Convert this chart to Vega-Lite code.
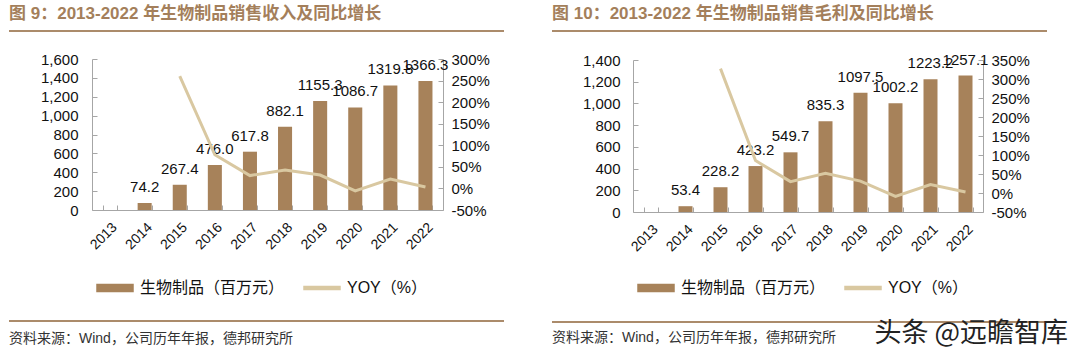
{
  "$schema": "https://vega.github.io/schema/vega-lite/v6.json",
  "padding": {"left": 9, "top": 5, "right": 0, "bottom": 0},
  "background": "#ffffff",
  "config": {
    "view": {"stroke": null},
    "font": "'Liberation Sans', 'Noto Sans CJK SC', sans-serif"
  },
  "datasets": {
    "rev": [
      {"year": "2013", "value": null, "yoy": null},
      {"year": "2014", "value": 74.2, "yoy": null},
      {"year": "2015", "value": 267.4, "yoy": 260.4},
      {"year": "2016", "value": 476.0, "yoy": 78.0},
      {"year": "2017", "value": 617.8, "yoy": 29.8},
      {"year": "2018", "value": 882.1, "yoy": 42.8},
      {"year": "2019", "value": 1155.3, "yoy": 31.0},
      {"year": "2020", "value": 1086.7, "yoy": -5.9},
      {"year": "2021", "value": 1319.8, "yoy": 21.5},
      {"year": "2022", "value": 1366.3, "yoy": 3.5}
    ],
    "gp": [
      {"year": "2013", "value": null, "yoy": null},
      {"year": "2014", "value": 53.4, "yoy": null},
      {"year": "2015", "value": 228.2, "yoy": 327.3},
      {"year": "2016", "value": 423.2, "yoy": 85.5},
      {"year": "2017", "value": 549.7, "yoy": 29.9},
      {"year": "2018", "value": 835.3, "yoy": 52.0},
      {"year": "2019", "value": 1097.5, "yoy": 31.4},
      {"year": "2020", "value": 1002.2, "yoy": -8.7},
      {"year": "2021", "value": 1223.2, "yoy": 22.1},
      {"year": "2022", "value": 1257.1, "yoy": 2.8}
    ]
  },
  "resolve": {"scale": {"color": "independent"}, "legend": {"color": "independent"}},
  "hconcat": [
    {
      "spacing": 20,
      "resolve": {"scale": {"color": "independent"}, "legend": {"color": "independent"}},
      "vconcat": [
        {
          "width": 495, "height": 2,
          "view": {"fill": "#ab8b6b", "stroke": null},
          "title": {"text": "图 9：2013-2022 年生物制品销售收入及同比增长", "anchor": "start", "fontSize": 17, "fontWeight": "bold", "color": "#a47f5b", "offset": 7},
          "data": {"values": []},
          "mark": "point"
        },
        {
          "spacing": 30,
          "resolve": {"scale": {"color": "independent"}, "legend": {"color": "independent"}},
          "hconcat": [
            {"width": 1, "height": 1, "data": {"values": []}, "mark": "point"},
            {
              "width": 351, "height": 151,
              "data": {"name": "rev"},
              "encoding": {
                "x": {"field": "year", "type": "nominal",
                  "scale": {"domain": ["2013","2014","2015","2016","2017","2018","2019","2020","2021","2022"], "paddingInner": 0.6, "paddingOuter": 0.3},
                  "axis": {"title": null, "labelAngle": -45, "labelFontSize": 14, "labelColor": "#111", "domainColor": "#a6a6a6", "tickColor": "#a6a6a6", "tickSize": -5, "tickBand": "extent", "labelPadding": 15}}
              },
              "layer": [
                {
                  "encoding": {
                    "y": {"field": "value", "type": "quantitative", "scale": {"domain": [0, 1600]},
                      "axis": {"title": null, "values": [0,200,400,600,800,1000,1200,1400,1600], "format": ",.0f", "labelOverlap": false, "labelFontSize": 15, "labelColor": "#111", "grid": false, "domainColor": "#a6a6a6", "tickColor": "#a6a6a6", "tickSize": -5, "labelPadding": 19}}
                  },
                  "layer": [
                    {
                      "mark": {"type": "bar"},
                      "encoding": {
                        "color": {"datum": "生物制品（百万元）", "scale": {"domain": ["生物制品（百万元）", "YOY（%）"], "range": ["#a7825a", "#d9c8a1"]},
                          "legend": {"title": null, "orient": "bottom", "direction": "horizontal", "offset": 13, "padding": 4, "labelFontSize": 16, "labelColor": "#111", "labelOffset": 6, "columnPadding": 16, "symbolSize": 1296, "symbolType": "M-1,-0.2H1V0.2H-1Z",
                            "encode": {"symbols": {"update": {"shape": {"signal": "datum.value === 'YOY（%）' ? 'M-1,-0.08H1V0.08H-1Z' : 'M-1,-0.2H1V0.2H-1Z'"}, "fill": {"signal": "datum.value === 'YOY（%）' ? '#d9c8a1' : '#a7825a'"}, "stroke": {"value": "transparent"}, "opacity": {"value": 1}}}}}}
                      }
                    },
                    {
                      "mark": {"type": "text", "baseline": "alphabetic", "dy": -11, "fontSize": 15, "color": "#111"},
                      "encoding": {
                        "text": {"field": "value", "type": "quantitative", "format": ".1f"}
                      }
                    }
                  ]
                },
                {
                  "mark": {"type": "line", "strokeWidth": 3},
                  "encoding": {
                    "y": {"field": "yoy", "type": "quantitative", "scale": {"domain": [-50, 300]},
                      "axis": {"orient": "right", "title": null, "values": [-50,0,50,100,150,200,250,300], "labelExpr": "datum.value + '%'", "labelOverlap": false, "labelFontSize": 15, "labelColor": "#111", "grid": false, "domainColor": "#a6a6a6", "tickColor": "#a6a6a6", "tickSize": -5, "labelPadding": 13}},
                    "color": {"datum": "YOY（%）", "scale": {"domain": ["生物制品（百万元）", "YOY（%）"], "range": ["#a7825a", "#d9c8a1"]},
                      "legend": {"title": null, "orient": "bottom", "direction": "horizontal", "offset": 13, "padding": 4, "labelFontSize": 16, "labelColor": "#111", "labelOffset": 6, "columnPadding": 16, "symbolSize": 1296, "symbolType": "M-1,-0.2H1V0.2H-1Z",
                        "encode": {"symbols": {"update": {"shape": {"signal": "datum.value === 'YOY（%）' ? 'M-1,-0.08H1V0.08H-1Z' : 'M-1,-0.2H1V0.2H-1Z'"}, "fill": {"signal": "datum.value === 'YOY（%）' ? '#d9c8a1' : '#a7825a'"}, "stroke": {"value": "transparent"}, "opacity": {"value": 1}}}}}}
                  }
                }
              ],
              "resolve": {"scale": {"y": "independent"}}
            }
          ]
        },
        {
          "width": 495, "height": 2,
          "view": {"fill": "#ab8b6b", "stroke": null},
          "title": {"text": "资料来源：Wind，公司历年年报，德邦研究所", "orient": "bottom", "anchor": "start", "fontSize": 14, "fontWeight": "normal", "color": "#333", "offset": 10},
          "data": {"values": []},
          "mark": "point"
        }
      ]
    },
    {
      "spacing": 20,
      "resolve": {"scale": {"color": "independent"}, "legend": {"color": "independent"}},
      "vconcat": [
        {
          "width": 495, "height": 2,
          "view": {"fill": "#ab8b6b", "stroke": null},
          "title": {"text": "图 10：2013-2022 年生物制品销售毛利及同比增长", "anchor": "start", "fontSize": 17, "fontWeight": "bold", "color": "#a47f5b", "offset": 7},
          "data": {"values": []},
          "mark": "point"
        },
        {
          "spacing": 29,
          "resolve": {"scale": {"color": "independent"}, "legend": {"color": "independent"}},
          "hconcat": [
            {"width": 1, "height": 1, "data": {"values": []}, "mark": "point"},
            {
              "width": 350, "height": 152,
              "data": {"name": "gp"},
              "encoding": {
                "x": {"field": "year", "type": "nominal",
                  "scale": {"domain": ["2013","2014","2015","2016","2017","2018","2019","2020","2021","2022"], "paddingInner": 0.6, "paddingOuter": 0.3},
                  "axis": {"title": null, "labelAngle": -45, "labelFontSize": 14, "labelColor": "#111", "domainColor": "#a6a6a6", "tickColor": "#a6a6a6", "tickSize": -5, "tickBand": "extent", "labelPadding": 15}}
              },
              "layer": [
                {
                  "encoding": {
                    "y": {"field": "value", "type": "quantitative", "scale": {"domain": [0, 1400]},
                      "axis": {"title": null, "values": [0,200,400,600,800,1000,1200,1400], "format": ",.0f", "labelOverlap": false, "labelFontSize": 15, "labelColor": "#111", "grid": false, "domainColor": "#a6a6a6", "tickColor": "#a6a6a6", "tickSize": -5, "labelPadding": 18}}
                  },
                  "layer": [
                    {
                      "mark": {"type": "bar"},
                      "encoding": {
                        "color": {"datum": "生物制品（百万元）", "scale": {"domain": ["生物制品（百万元）", "YOY（%）"], "range": ["#a7825a", "#d9c8a1"]},
                          "legend": {"title": null, "orient": "bottom", "direction": "horizontal", "offset": 11, "padding": 4, "labelFontSize": 16, "labelColor": "#111", "labelOffset": 6, "columnPadding": 16, "symbolSize": 1296, "symbolType": "M-1,-0.2H1V0.2H-1Z",
                            "encode": {"symbols": {"update": {"shape": {"signal": "datum.value === 'YOY（%）' ? 'M-1,-0.08H1V0.08H-1Z' : 'M-1,-0.2H1V0.2H-1Z'"}, "fill": {"signal": "datum.value === 'YOY（%）' ? '#d9c8a1' : '#a7825a'"}, "stroke": {"value": "transparent"}, "opacity": {"value": 1}}}}}}
                      }
                    },
                    {
                      "mark": {"type": "text", "baseline": "alphabetic", "dy": -11, "fontSize": 15, "color": "#111"},
                      "encoding": {
                        "text": {"field": "value", "type": "quantitative", "format": ".1f"}
                      }
                    }
                  ]
                },
                {
                  "mark": {"type": "line", "strokeWidth": 3},
                  "encoding": {
                    "y": {"field": "yoy", "type": "quantitative", "scale": {"domain": [-50, 350]},
                      "axis": {"orient": "right", "title": null, "values": [-50,0,50,100,150,200,250,300,350], "labelExpr": "datum.value + '%'", "labelOverlap": false, "labelFontSize": 15, "labelColor": "#111", "grid": false, "domainColor": "#a6a6a6", "tickColor": "#a6a6a6", "tickSize": -5, "labelPadding": 13}},
                    "color": {"datum": "YOY（%）", "scale": {"domain": ["生物制品（百万元）", "YOY（%）"], "range": ["#a7825a", "#d9c8a1"]},
                      "legend": {"title": null, "orient": "bottom", "direction": "horizontal", "offset": 11, "padding": 4, "labelFontSize": 16, "labelColor": "#111", "labelOffset": 6, "columnPadding": 16, "symbolSize": 1296, "symbolType": "M-1,-0.2H1V0.2H-1Z",
                        "encode": {"symbols": {"update": {"shape": {"signal": "datum.value === 'YOY（%）' ? 'M-1,-0.08H1V0.08H-1Z' : 'M-1,-0.2H1V0.2H-1Z'"}, "fill": {"signal": "datum.value === 'YOY（%）' ? '#d9c8a1' : '#a7825a'"}, "stroke": {"value": "transparent"}, "opacity": {"value": 1}}}}}}
                  }
                }
              ],
              "resolve": {"scale": {"y": "independent"}}
            }
          ]
        },
        {
          "width": 495, "height": 2,
          "view": {"fill": "#ab8b6b", "stroke": null},
          "title": {"text": "资料来源：Wind，公司历年年报，德邦研究所", "orient": "bottom", "anchor": "start", "fontSize": 14, "fontWeight": "normal", "color": "#333", "offset": 10, "dy": -26},
          "data": {"values": [{"w": "头条 @远瞻智库"}]},
          "mark": {"type": "text", "align": "right", "baseline": "top", "dx": 21, "dy": -2, "fontSize": 27, "font": "Noto Sans CJK SC", "color": "#222"},
          "encoding": {"x": {"value": "width"}, "y": {"value": "height"}, "text": {"field": "w"}}
        }
      ]
    }
  ],
  "spacing": 48
}
